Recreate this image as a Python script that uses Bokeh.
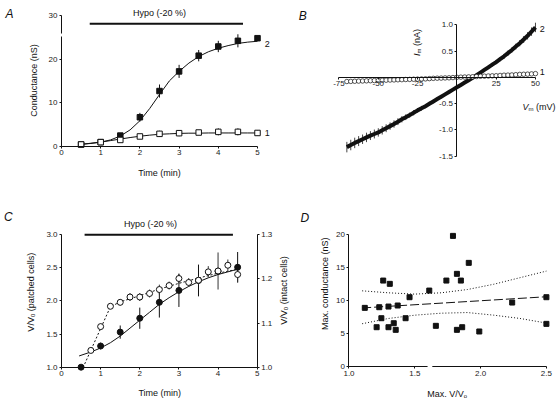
import math
from bokeh.plotting import figure
from bokeh.layouts import column, row
from bokeh.models import (FixedTicker, Label, BoxAnnotation, LinearAxis, Range1d,
                          PrintfTickFormatter)
from bokeh.embed import file_html
from bokeh.resources import INLINE

FONT = "Liberation Sans"
INK = "#111111"
TICK_PX = "8px"
TITLE_PX = 9

# ---------------- Panel A data ----------------
time_a = [0.5, 1.0, 1.5, 2.0, 2.5, 3.0, 3.5, 4.0, 4.5, 5.0]
cond_2 = [0.46, 1.0, 2.5, 6.7, 12.7, 17.2, 20.8, 22.9, 24.2, 24.8]
cond_2_err = [0.2, 0.3, 0.5, 1.0, 1.5, 1.5, 1.3, 1.3, 1.5, 0.5]
cond_1 = [0.46, 1.0, 1.5, 2.3, 2.9, 3.05, 3.2, 3.35, 3.35, 3.1]
cond_1_err = [0.2, 0.3, 0.3, 0.5, 0.7, 0.7, 0.5, 0.8, 0.8, 0.6]
fit_time_a = [0.5, 0.75, 1.0, 1.25, 1.5, 1.75, 2.0, 2.25, 2.5, 2.75, 3.0, 3.25,
              3.5, 3.75, 4.0, 4.25, 4.5, 4.75, 5.0]
fit_cond_2 = [0.5, 0.7, 1.0, 1.5, 2.4, 3.8, 5.9, 8.7, 11.9, 15.0, 17.2, 19.1,
              20.6, 21.7, 22.5, 23.1, 23.6, 23.9, 24.1]
fit_cond_1 = [0.5, 0.75, 1.0, 1.35, 1.7, 2.05, 2.35, 2.6, 2.8, 2.9, 3.0, 3.05,
              3.05, 3.1, 3.1, 3.1, 3.1, 3.1, 3.1]
hypo_a = [0.72, 4.63]

# ---------------- Panel B data ----------------
v_b = [-70.0, -67.5, -65.0, -62.5, -60.0, -57.5, -55.0, -52.5, -50.0, -47.5,
       -45.0, -42.5, -40.0, -37.5, -35.0, -32.5, -30.0, -27.5, -25.0, -22.5,
       -20.0, -17.5, -15.0, -12.5, -10.0, -7.5, -5.0, -2.5, 0.0, 2.5, 5.0, 7.5,
       10.0, 12.5, 15.0, 17.5, 20.0, 22.5, 25.0, 27.5, 30.0, 32.5, 35.0, 37.5,
       40.0, 42.5, 45.0, 47.5, 50.0]
i_2 = [-1.33, -1.29, -1.25, -1.215, -1.18, -1.145, -1.11, -1.08,
       -1.05, -1.01, -0.97, -0.93, -0.89, -0.845, -0.80, -0.76,
       -0.72, -0.675, -0.63, -0.59, -0.55, -0.505, -0.46, -0.415,
       -0.37, -0.325, -0.28, -0.235, -0.19, -0.145, -0.10, -0.055,
       -0.01, 0.04, 0.09, 0.14, 0.19, 0.24, 0.29, 0.345,
       0.40, 0.46, 0.52, 0.585, 0.65, 0.72, 0.79, 0.87,
       0.95]
i_2_err = [0.10, 0.10, 0.10, 0.095, 0.09, 0.09, 0.085, 0.085,
           0.08, 0.08, 0.075, 0.07, 0.07, 0.065, 0.06, 0.055,
           0.05, 0.05, 0.045, 0.045, 0.04, 0.04, 0.035, 0.035,
           0.03, 0.03, 0.025, 0.025, 0.02, 0.02, 0.02, 0.02,
           0.02, 0.025, 0.025, 0.03, 0.03, 0.035, 0.04, 0.04,
           0.045, 0.05, 0.05, 0.055, 0.06, 0.065, 0.07, 0.08,
           0.09]
i_1 = [-0.080, -0.078, -0.075, -0.072, -0.070, -0.067, -0.065, -0.062,
       -0.060, -0.057, -0.055, -0.052, -0.050, -0.047, -0.045, -0.042,
       -0.040, -0.037, -0.035, -0.032, -0.030, -0.025, -0.020, -0.017,
       -0.015, -0.012, -0.010, -0.005, 0.000, 0.003, 0.005, 0.008,
       0.010, 0.015, 0.020, 0.022, 0.025, 0.028, 0.030, 0.035,
       0.040, 0.042, 0.045, 0.050, 0.055, 0.058, 0.060, 0.065,
       0.070]

# ---------------- Panel C data ----------------
time_patched = [0.5, 1.0, 1.5, 2.0, 2.5, 3.0, 3.5, 4.0, 4.5]
vv_patched = [1.0, 1.32, 1.53, 1.74, 1.98, 2.16, 2.31, 2.45, 2.51]
vv_patched_err = [0.0, 0.05, 0.10, 0.16, 0.23, 0.25, 0.24, 0.05, 0.23]
time_intact = [0.75, 1.0, 1.25, 1.5, 1.75, 2.0, 2.25, 2.5, 2.75, 3.0, 3.25,
               3.5, 3.75, 4.0, 4.25, 4.5]
vv_intact = [1.038, 1.092, 1.138, 1.147, 1.159, 1.159, 1.167, 1.176, 1.185,
             1.201, 1.192, 1.197, 1.216, 1.218, 1.231, 1.210]
vv_intact_err = [0.004, 0.006, 0.004, 0.007, 0.009, 0.009, 0.009, 0.011, 0.009,
                 0.011, 0.010, 0.010, 0.013, 0.042, 0.013, 0.018]
fit_time_patched = [0.45, 0.75, 1.0, 1.25, 1.5, 1.75, 2.0, 2.25, 2.5, 2.75, 3.0,
                    3.25, 3.5, 3.75, 4.0, 4.25, 4.5]
fit_vv_patched = [1.17, 1.23, 1.29, 1.37, 1.47, 1.59, 1.71, 1.83, 1.95, 2.05,
                  2.14, 2.22, 2.29, 2.35, 2.40, 2.44, 2.48]
fit_time_intact = [0.55, 1.25, 1.5, 2.0, 2.5, 3.0, 3.5, 4.0, 4.5]
fit_vv_intact = [0.999, 1.137, 1.148, 1.162, 1.177, 1.190, 1.202, 1.213, 1.222]
hypo_c = [0.59, 4.38]

# ---------------- Panel D data ----------------
max_vv = [1.12, 1.21, 1.23, 1.246, 1.26, 1.30, 1.30, 1.31, 1.34, 1.355, 1.37,
          1.43, 1.46, 1.61, 1.66, 1.74, 1.79, 1.82, 1.82, 1.85, 1.86, 1.91,
          1.99, 2.24, 2.50, 2.50]
max_cond = [8.91, 5.97, 9.01, 7.34, 13.06, 9.11, 5.97, 12.56, 6.58, 5.57, 9.27,
            7.34, 10.53, 11.54, 6.18, 13.06, 19.85, 14.08, 5.57, 13.06, 5.97,
            15.75, 5.32, 9.72, 10.53, 6.48]
reg_x = [1.1, 2.5]
reg_y = [8.9, 10.6]
band_x = [1.1, 1.3, 1.5, 1.7, 1.9, 2.1, 2.3, 2.5]
band_hi = [11.5, 11.2, 11.0, 11.2, 11.7, 12.5, 13.5, 14.5]
band_lo = [6.5, 7.3, 7.8, 8.1, 8.2, 7.8, 7.3, 6.6]

# ---------------- helpers ----------------
CW = {'V': .667, '/': .278, ' ': .278, '(': .333, ')': .333, 'p': .556, 'a': .556,
      't': .278, 'c': .5, 'h': .556, 'e': .556, 'd': .556, 'l': .222, 's': .5,
      'i': .222, 'n': .556, 'M': .833, 'x': .5, '.': .278, 'I': .278, 'm': .833,
      'A': .667, 'o': .556, 'O': .778, '0': .556, 'u': .556, 'S': .667}


def tw(s, size):
    return sum(CW.get(c, 0.556) for c in s) * size


def new_fig(w, h, xr, yr):
    # the frame fills the whole canvas; axes are placed inside it
    p = figure(width=w, height=h, x_range=Range1d(*xr), y_range=Range1d(*yr),
               output_backend="svg", toolbar_location=None, title=None,
               min_border_left=0, min_border_right=0,
               min_border_top=0, min_border_bottom=0)
    p.outline_line_color = None
    p.xgrid.visible = False
    p.ygrid.visible = False
    p.background_fill_color = "white"
    p.border_fill_color = "white"
    return p


def style_axis(ax, ticks, loc, bounds, fmt=None):
    ax.ticker = FixedTicker(ticks=ticks)
    ax.fixed_location = loc
    ax.bounds = bounds
    ax.axis_line_color = INK
    ax.axis_line_width = 1
    ax.major_tick_line_color = INK
    ax.major_tick_in = 0
    ax.major_tick_out = 2
    ax.minor_tick_line_color = None
    ax.major_label_text_font = FONT
    ax.major_label_text_font_size = TICK_PX
    ax.major_label_text_color = "#222222"
    ax.major_label_standoff = 2
    if fmt:
        ax.formatter = PrintfTickFormatter(format=fmt)


def label(p, x, y, text, size=TITLE_PX, angle=0.0, align="center",
          baseline="middle", style="normal"):
    p.add_layout(Label(x=x, y=y, text=text, angle=angle, text_font=FONT,
                       text_font_size=f"{size}px", text_font_style=style,
                       text_align=align, text_baseline=baseline,
                       text_color=INK))


def rich_label(p, x, y, parts, angle=0.0):
    total = sum(tw(t, s) for t, s, d, st in parts)
    acc = -total / 2
    for t, s, d, st in parts:
        lead = len(t) - len(t.lstrip(" "))
        acc += tw(" " * lead, s)
        body = t.lstrip(" ")
        if angle == 0:
            xo, yo = acc, d
        else:
            xo, yo = -d, acc
        p.add_layout(Label(x=x, y=y, text=body, x_offset=xo, y_offset=yo,
                           angle=angle, text_font=FONT,
                           text_font_size=f"{s}px", text_font_style=st,
                           text_align="left", text_baseline="middle",
                           text_color=INK))
        acc += tw(body, s)


def errbars(p, xs, ys, es, **kw):
    p.segment(x0=xs, y0=[y - e for y, e in zip(ys, es)],
              x1=xs, y1=[y + e for y, e in zip(ys, es)], **kw)


# ---------------- Panel A ----------------
pa = new_fig(280, 200, (-1.5561, 5.5867), (-12.366, 33.432))
style_axis(pa.xaxis[0], [0, 1, 2, 3, 4, 5], 0, (0, 5))
style_axis(pa.yaxis[0], [0, 10, 20, 30], 0, (0, 30))
pa.line(fit_time_a, fit_cond_2, line_color=INK, line_width=1)
pa.line(fit_time_a, fit_cond_1, line_color=INK, line_width=1)
errbars(pa, time_a, cond_2, cond_2_err, line_color=INK, line_width=1)
errbars(pa, time_a, cond_1, cond_1_err, line_color=INK, line_width=1)
pa.scatter(time_a, cond_2, marker="square", size=5.5, fill_color=INK, line_color=INK)
pa.scatter(time_a, cond_1, marker="square", size=5.5, fill_color="white",
           line_color=INK, line_width=1)
pa.line(hypo_a, [28.1, 28.1], line_color=INK, line_width=2)
pa.add_layout(BoxAnnotation(left=-0.06, right=0.06, bottom=25.2, top=25.9,
                            fill_color="white", fill_alpha=1, line_color=None,
                            level="overlay"))
label(pa, -1.4286, 31.83, "A", size=12, align="left", baseline="top", style="italic")
label(pa, 2.5, 30.52, "Hypo (-20 %)")
label(pa, -0.707, 15.11, "Conductance (nS)", angle=math.pi / 2)
label(pa, 2.5, -6.11, "Time (min)")
label(pa, 5.247, 23.52, "2")
label(pa, 5.247, 3.05, "1")

# ---------------- Panel B ----------------
pb = new_fig(279, 200, (-112.21, 65.29), (-2.3467, 1.4629))
style_axis(pb.xaxis[0], [-75, -50, -25, 25, 50], 0, (-75, 50), "%d")
style_axis(pb.yaxis[0], [-1.5, -1.0, -0.5, 0.5, 1.0], 0, (-1.5, 1.0), "%.1f")
errbars(pb, v_b, i_2, i_2_err, line_color="#444444", line_width=1)
pb.line(v_b, i_2, line_color=INK, line_width=4)
pb.scatter(v_b, i_1, marker="circle", size=4.5, fill_color="white",
           line_color=INK, line_width=0.7)
label(pb, -100.6, 1.31, "B", size=12, align="left", baseline="top", style="italic")
rich_label(pb, -25.17, 0.663, [("I", TITLE_PX, 0, "italic"), ("m", 6, -2, "normal"),
                               (" (nA)", TITLE_PX, 0, "normal")], angle=math.pi / 2)
rich_label(pb, 52.26, -0.57, [("V", TITLE_PX, 0, "italic"), ("m", 6, -2, "normal"),
                              (" (mV)", TITLE_PX, 0, "normal")])
label(pb, 54.3, 0.924, "2")
label(pb, 54.3, 0.097, "1")

# ---------------- Panel C ----------------
pc = new_fig(292, 204, (-1.5585, 5.9019), (0.43656, 3.5181))
pc.extra_y_ranges = {"intact": Range1d(0.915484, 1.37772)}
style_axis(pc.xaxis[0], [0, 1, 2, 3, 4, 5], 1.0, (0, 5))
style_axis(pc.yaxis[0], [1.0, 1.5, 2.0, 2.5, 3.0], 0, (1.0, 3.0), "%.1f")
ax_r = LinearAxis(y_range_name="intact")
pc.add_layout(ax_r, "right")
style_axis(ax_r, [1.0, 1.1, 1.2, 1.3], 5, (1.0, 1.3), "%.1f")
pc.line(fit_time_patched, fit_vv_patched, line_color=INK, line_width=1)
pc.line(fit_time_intact, fit_vv_intact, line_color=INK, line_width=1,
        line_dash="2 2", y_range_name="intact")
errbars(pc, time_patched, vv_patched, vv_patched_err, line_color=INK, line_width=1)
errbars(pc, time_intact, vv_intact, vv_intact_err, line_color="#333333",
        line_width=1, y_range_name="intact")
pc.scatter(time_patched, vv_patched, marker="circle", size=6, fill_color=INK,
           line_color=INK)
pc.scatter(time_intact, vv_intact, marker="circle", size=6, fill_color="white",
           line_color=INK, line_width=1, y_range_name="intact")
pc.line(hypo_c, [3.0, 3.0], line_color=INK, line_width=2)
label(pc, -1.469, 3.382, "C", size=12, align="left", baseline="top", style="italic")
label(pc, 2.274, 3.156, "Hypo (-20 %)")
label(pc, 2.511, 0.607, "Time (min)")
rich_label(pc, -0.774, 2.133, [("V/V", TITLE_PX, 0, "normal"), ("0", 6, -2, "normal"),
                               (" (patched cells)", TITLE_PX, 0, "normal")],
           angle=math.pi / 2)
rich_label(pc, 5.68, 2.159, [("V/V", TITLE_PX, 0, "normal"), ("0", 6, -2, "normal"),
                             (" (intact cells)", TITLE_PX, 0, "normal")],
           angle=math.pi / 2)

# ---------------- Panel D ----------------
pd_ = new_fig(267, 204, (0.57067, 2.59954), (-5.775, 25.228))
style_axis(pd_.xaxis[0], [1.0, 1.5, 2.0, 2.5], 0, (1.0, 2.5), "%.1f")
style_axis(pd_.yaxis[0], [0, 5, 10, 15, 20], 1.0, (0, 20))
pd_.line(band_x, band_hi, line_color=INK, line_width=1, line_dash="1 2")
pd_.line(band_x, band_lo, line_color=INK, line_width=1, line_dash="1 2")
pd_.line(reg_x, reg_y, line_color=INK, line_width=1, line_dash="9 3")
pd_.scatter(max_vv, max_cond, marker="square", size=5, fill_color=INK, line_color=INK)
pd_.add_layout(BoxAnnotation(left=1.597, right=1.633, bottom=-0.4, top=0.4,
                             fill_color="white", fill_alpha=1, line_color=None,
                             level="overlay"))
label(pd_, 0.6315, 23.56, "D", size=12, align="left", baseline="top", style="italic")
label(pd_, 0.8214, 12.57, "Max. conductance (nS)", angle=math.pi / 2)
rich_label(pd_, 1.746, -4.255, [("Max. V/V", TITLE_PX, 0, "normal"),
                                ("o", 6, -2, "normal")])

layout = column(row(pa, pb), row(pc, pd_))
open("out.html", "w").write(file_html(layout, INLINE))
